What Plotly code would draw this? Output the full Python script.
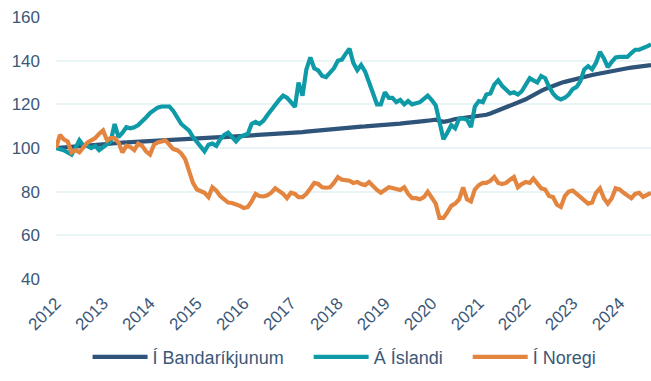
import pandas as pd
import plotly.graph_objects as go

# Monthly index, January 2012 = 100
months = pd.date_range("2012-01-01", "2024-09-01", freq="MS")

# Í Bandaríkjunum
usa = [
    100, 100.2, 100.4, 100.5, 100.6, 100.7, 100.9, 101, 101.1, 101.2, 101.4, 101.5,        # 2012
    101.6, 101.8, 102, 102.1, 102.3, 102.5, 102.6, 102.8, 103, 103.1, 103.3, 103.5,        # 2013
    103.6, 103.7, 103.8, 103.9, 104, 104, 104.1, 104.1, 104.2, 104.2, 104.3, 104.4,        # 2014
    104.5, 104.6, 104.7, 104.7, 104.8, 104.9, 105, 105, 105.1, 105.2, 105.3, 105.4,        # 2015
    105.5, 105.6, 105.7, 105.8, 105.9, 106, 106.1, 106.2, 106.4, 106.5, 106.6, 106.8,      # 2016
    107, 107.1, 107.2, 107.3, 107.5, 107.7, 107.9, 108, 108.2, 108.3, 108.5, 108.7,        # 2017
    108.8, 109, 109.2, 109.3, 109.5, 109.6, 109.8, 109.9, 110, 110.1, 110.3, 110.5,        # 2018
    110.6, 110.8, 110.9, 111, 111.2, 111.4, 111.5, 111.7, 111.9, 112.1, 112.3, 112.5,      # 2019
    112.7, 113, 112.5, 112, 112.3, 113, 113.3, 113.5, 113.7, 114, 114.2, 114.4,            # 2020
    114.5, 114.8, 115.2, 115.8, 116.5, 117.2, 118, 118.7, 119.3, 120, 120.6, 121.3,        # 2021
    122.3, 123.3, 124.3, 125.3, 126.2, 127, 127.8, 128.5, 129.2, 129.8, 130.3, 130.8,      # 2022
    131.2, 131.6, 132, 132.5, 133, 133.4, 133.8, 134.2, 134.6, 135, 135.3, 135.6,          # 2023
    135.9, 136.2, 136.5, 136.8, 137, 137.2, 137.5, 137.7, 138,                             # 2024
]

# Á Íslandi
iceland = [
    100, 99.5, 99, 98, 97, 100, 103.5, 101, 101, 100, 101, 99,                             # 2012
    100.5, 102, 103, 111, 105, 107, 109.5, 109, 109.5, 110.5, 112, 114,                     # 2013
    116, 117.5, 118.5, 119, 119, 119, 117, 114, 111, 109.5, 108, 105,                       # 2014
    102.5, 100.5, 98.5, 101.5, 102, 101, 104, 106, 107, 105, 103, 105,                      # 2015
    106, 106.5, 111, 112, 111, 112.5, 115, 117.5, 120, 122, 124, 123,                       # 2016
    121, 118.8, 130, 124, 136, 141.5, 136.5, 135.5, 133, 132.5, 134.5, 136.5,               # 2017
    140, 140.5, 143, 145.5, 139, 135.7, 138, 135, 130, 125, 120, 120,                       # 2018
    125.5, 123, 123, 121, 122, 120, 121.5, 120, 120.5, 121, 122.5, 124,                     # 2019
    122, 119.5, 112, 104, 107, 110.5, 109, 113.5, 113.5, 113, 109.6, 119,                   # 2020
    121.5, 121, 124.5, 125, 129, 131, 128.5, 126.5, 125, 125.5, 124.5, 126,                 # 2021
    129, 132, 131, 130, 133, 132, 128, 125, 123, 122.2, 123, 124.5,                         # 2022
    127, 128, 130.5, 136, 137.5, 136, 139, 144, 141, 137, 139.5, 141.5,                     # 2023
    141.7, 141.7, 141.7, 143.5, 145, 145, 145.5, 146.5, 147.5,                              # 2024
]

# Í Noregi
norway = [
    100, 106, 104, 103, 98, 99, 98, 100.5, 102.5, 103.5, 104.5, 106.5,                      # 2012
    108, 103.5, 104.5, 104.5, 102.5, 98, 101, 100.5, 99, 102, 101, 98.5,                    # 2013
    97, 101.5, 102.5, 103, 103.5, 101.5, 99.5, 99, 97.5, 95, 90, 84,                        # 2014
    81, 80, 79.5, 77.5, 82, 80.5, 78, 76.5, 75, 74.8, 74.3, 73.5,                           # 2015
    72.5, 73, 75.5, 79, 78, 77.8, 78.3, 79.5, 81.5, 80.5, 79, 77,                           # 2016
    79.5, 79, 77.5, 77.5, 79, 81.5, 84, 83.5, 82, 81.8, 82, 84,                             # 2017
    86.7, 85.5, 85.3, 85, 84, 84.4, 83.5, 83, 84.4, 82.5, 80.8, 79.5,                       # 2018
    81, 82, 81.7, 81.3, 80.8, 82, 79, 77, 77, 76.5, 77.5, 80,                               # 2019
    77, 74.5, 68, 68, 70.5, 73.5, 74.5, 76.5, 82, 76.5, 75.5, 81,                           # 2020
    83, 84, 84, 85, 86.7, 84, 83.5, 84, 85.5, 86.7, 82, 83.5,                               # 2021
    84.4, 84, 86, 84, 81.5, 81, 78, 77.5, 74, 73, 78, 80,                                   # 2022
    80.5, 79, 77.5, 76, 74.5, 75, 79.5, 81.5, 77, 74.5, 77, 81.5,                           # 2023
    81, 79.5, 78.5, 77, 79, 79.5, 77.6, 78.5, 79.5,                                         # 2024
]

series_names = ["Í Bandaríkjunum", "Á Íslandi", "Í Noregi"]
series_values = [usa, iceland, norway]
series_colors = ["#2f5479", "#0f9aa8", "#e3843f"]

year_ticks = pd.date_range("2012-01-01", "2024-01-01", freq="YS")
y_ticks = [40, 60, 80, 100, 120, 140, 160]

text_color = "#3b5878"
font_family = "Liberation Sans, Arial, sans-serif"
# non-breaking spaces widen the gap between legend entries
entry_pad = "\u00a0" * 4

fig = go.Figure()
for i, (name, values, color) in enumerate(zip(series_names, series_values, series_colors)):
    label = name + (entry_pad if i < len(series_names) - 1 else "")
    fig.add_trace(go.Scatter(
        x=months, y=values, name=label, mode="lines",
        line=dict(color=color, width=4.2),
    ))

fig.update_layout(
    width=651, height=381,
    margin=dict(l=56, r=0, t=17, b=102),
    paper_bgcolor="white", plot_bgcolor="white",
    font=dict(family=font_family, size=17, color=text_color),
    showlegend=True,
    legend=dict(
        orientation="h", x=0.485, xanchor="center", y=-0.298, yanchor="middle",
        font=dict(size=18, color=text_color), itemwidth=55,
        bgcolor="rgba(0,0,0,0)",
    ),
)
fig.update_xaxes(
    type="date", range=[months[0], months[-1]],
    tickvals=year_ticks, ticktext=[str(d.year) for d in year_ticks],
    tickangle=-45, showgrid=False, showline=False, zeroline=False,
    tickfont=dict(size=17, color=text_color), ticklabelstandoff=10,
)
fig.update_yaxes(
    range=[40, 160], tickvals=y_ticks,
    showgrid=True, gridcolor="#e9f4f6", gridwidth=2,
    showline=False, zeroline=False,
    tickfont=dict(size=17, color=text_color), ticklabelstandoff=15,
)

fig.write_html("out.html")
